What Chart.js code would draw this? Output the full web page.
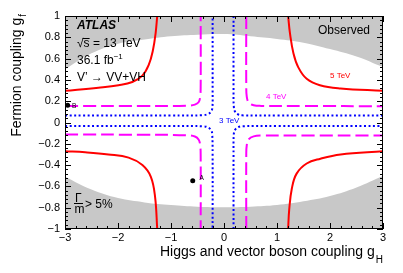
<!DOCTYPE html>
<html>
<head>
<meta charset="utf-8">
<script src="https://cdn.jsdelivr.net/npm/chart.js@4.4.0/dist/chart.umd.min.js"></script>
<style>
html, body { margin: 0; padding: 0; background: #fff; }
#wrap { width: 403px; height: 273px; }
</style>
</head>
<body>
<div id="wrap"><canvas id="chart" width="403" height="273"></canvas></div>
<script>
// Tick labels
const xTickValues = [-3, -2, -1, 0, 1, 2, 3];
const yTickValues = [-1, -0.8, -0.6, -0.4, -0.2, 0, 0.2, 0.4, 0.6, 0.8, 1];

// Grey band (Gamma/m > 5%), upper and lower edge
const widthEdgeGH = [-3, -2.5, -2, -1.5, -1, -0.5, 0, 0.5, 1, 1.5, 2, 2.5, 3];
const widthEdgeUpperGF = [0.50, 0.65, 0.74, 0.78, 0.81, 0.825, 0.83, 0.81, 0.785, 0.75, 0.69, 0.62, 0.52];
const widthEdgeLowerGF = [-0.51, -0.63, -0.71, -0.75, -0.775, -0.79, -0.795, -0.79, -0.775, -0.74, -0.69, -0.61, -0.50];

// 5 TeV contour [gH, gf], one branch per quadrant
const tev5UpperLeft = [[-3, 0.297], [-2.37, 0.327], [-1.99, 0.35], [-1.73, 0.38], [-1.54, 0.44], [-1.42, 0.54], [-1.34, 0.68], [-1.29, 0.84], [-1.26, 1.0]];
const tev5UpperRight = [[1.21, 1.0], [1.245, 0.836], [1.31, 0.65], [1.40, 0.52], [1.56, 0.41], [1.81, 0.35], [2.2, 0.32], [3, 0.297]];
const tev5LowerLeft = [[-3, -0.27], [-2.62, -0.28], [-2.18, -0.30], [-1.80, -0.33], [-1.54, -0.40], [-1.38, -0.51], [-1.30, -0.70], [-1.26, -1.0]];
const tev5LowerRight = [[1.21, -1.0], [1.23, -0.82], [1.28, -0.62], [1.37, -0.48], [1.56, -0.385], [1.82, -0.34], [2.2, -0.30], [3, -0.27]];

// 4 TeV contour
const tev4UpperLeft = [[-3, 0.156], [-1.5, 0.156], [-0.7, 0.157], [-0.55, 0.168], [-0.48, 0.19], [-0.45, 0.24], [-0.44, 0.35], [-0.44, 1.0]];
const tev4UpperRight = [[0.42, 1.0], [0.42, 0.35], [0.43, 0.24], [0.47, 0.185], [0.56, 0.162], [0.7, 0.156], [1.5, 0.155], [3, 0.153]];
const tev4LowerLeft = [[-3, -0.113], [-1.5, -0.115], [-0.7, -0.12], [-0.55, -0.132], [-0.48, -0.16], [-0.45, -0.21], [-0.44, -0.32], [-0.44, -1.0]];
const tev4LowerRight = [[0.42, -1.0], [0.42, -0.32], [0.43, -0.21], [0.47, -0.155], [0.56, -0.13], [0.7, -0.123], [1.5, -0.122], [3, -0.122]];

// 3 TeV contour
const tev3UpperLeft = [[-3, 0.066], [-1, 0.066], [-0.40, 0.068], [-0.30, 0.08], [-0.24, 0.105], [-0.218, 0.146], [-0.215, 0.3], [-0.215, 1.0]];
const tev3UpperRight = [[0.18, 1.0], [0.18, 0.3], [0.185, 0.15], [0.21, 0.1], [0.27, 0.075], [0.34, 0.067], [1, 0.066], [3, 0.066]];
const tev3LowerLeft = [[-3, -0.033], [-1, -0.034], [-0.38, -0.036], [-0.29, -0.05], [-0.24, -0.075], [-0.222, -0.11], [-0.215, -0.3], [-0.215, -1.0]];
const tev3LowerRight = [[0.18, -1.0], [0.18, -0.3], [0.185, -0.11], [0.21, -0.068], [0.27, -0.044], [0.34, -0.035], [1, -0.033], [3, -0.032]];

// Benchmark points
const benchA = [-0.59, -0.548];
const benchB = [-2.95, 0.162];

const FONT = "'Liberation Sans', Arial, Helvetica, sans-serif";

function toXY(pairs) {
	return pairs.map(p => ({ x: p[0], y: p[1] }));
}

function contour(pairs, color, dash) {
	return {
		data: toXY(pairs),
		borderColor: color,
		borderWidth: 2,
		borderDash: dash,
		pointRadius: 0,
		tension: 0.4,
		fill: false,
		order: 2
	};
}

function band(edge, fillMode) {
	return {
		data: widthEdgeGH.map((g, i) => ({ x: g, y: edge[i] })),
		borderWidth: 0,
		borderColor: 'rgba(0,0,0,0)',
		backgroundColor: '#c8c8c8',
		pointRadius: 0,
		tension: 0.4,
		fill: fillMode,
		order: 10
	};
}

function marker(p) {
	return {
		data: [{ x: p[0], y: p[1] }],
		showLine: false,
		pointRadius: 2.5,
		pointBackgroundColor: '#000',
		pointBorderWidth: 0,
		order: 1
	};
}

function fmtTick(v) {
	let s = (Math.abs(v) < 1e-9 ? 0 : v).toFixed(1);
	s = s.replace(/\.0$/, '');
	return s.replace('-', '\u2212');
}

// Rahmen, Ticks nach innen und Beschriftungen
const decorPlugin = {
	id: 'decor',
	afterDraw(chart) {
		const { ctx, chartArea: a, scales: { x, y } } = chart;
		ctx.save();
		ctx.strokeStyle = '#000';
		ctx.lineWidth = 1;
		ctx.strokeRect(a.left + 0.5, a.top + 0.5, a.right - a.left - 1, a.bottom - a.top - 1);

		ctx.beginPath();
		for (let i = 0; i <= 30; i++) {
			const px = Math.round(x.getPixelForValue(-3 + i * 0.2)) + 0.5;
			const len = i % 5 === 0 ? 6 : 3;
			ctx.moveTo(px, a.bottom); ctx.lineTo(px, a.bottom - len);
			ctx.moveTo(px, a.top); ctx.lineTo(px, a.top + len);
		}
		for (let i = 0; i <= 50; i++) {
			const py = Math.round(y.getPixelForValue(-1 + i * 0.04)) + 0.5;
			const len = i % 5 === 0 ? 6 : 3;
			ctx.moveTo(a.left, py); ctx.lineTo(a.left + len, py);
			ctx.moveTo(a.right, py); ctx.lineTo(a.right - len, py);
		}
		ctx.stroke();

		ctx.fillStyle = '#000';
		ctx.textBaseline = 'alphabetic';
		ctx.textAlign = 'left';

		// x title with subscript H
		ctx.font = '14px ' + FONT;
		const xMain = 'Higgs and vector boson coupling g';
		ctx.font = '10px ' + FONT;
		const subH = ctx.measureText('H').width;
		ctx.font = '14px ' + FONT;
		const xMainW = ctx.measureText(xMain).width;
		const xEnd = a.right;
		ctx.fillText(xMain, xEnd - subH - xMainW - 1, 256);
		ctx.font = '10px ' + FONT;
		ctx.fillText('H', xEnd - subH, 263);

		// y title with subscript f (rotated)
		ctx.save();
		ctx.translate(21, 0);
		ctx.rotate(-Math.PI / 2);
		ctx.font = '14px ' + FONT;
		const yMain = 'Fermion coupling g';
		const yMainW = ctx.measureText(yMain).width;
		ctx.font = '10px ' + FONT;
		const subF = ctx.measureText('f').width;
		const yStart = -(14 + subF + 1 + yMainW);
		ctx.font = '14px ' + FONT;
		ctx.fillText(yMain, yStart, 0);
		ctx.font = '10px ' + FONT;
		ctx.fillText('f', yStart + yMainW + 1, 5);
		ctx.restore();

		// ATLAS block
		ctx.font = 'italic bold 12px ' + FONT;
		ctx.fillText('ATLAS', 77, 28.5);
		ctx.font = '12px ' + FONT;
		const sqrtW = ctx.measureText('\u221A').width;
		ctx.fillText('\u221As = 13 TeV', 77, 47);
		const sW = ctx.measureText('s').width;
		ctx.beginPath();
		ctx.moveTo(77 + sqrtW - 1, 38.5);
		ctx.lineTo(77 + sqrtW + sW, 38.5);
		ctx.stroke();
		ctx.fillText('36.1 fb', 77, 64);
		const fbW = ctx.measureText('36.1 fb').width;
		ctx.font = '8px ' + FONT;
		ctx.fillText('\u22121', 77 + fbW, 59);
		ctx.font = '12px ' + FONT;
		ctx.fillText('V\u2019 \u2192 VV+VH', 77, 81);

		ctx.fillText('Observed', 318, 34);

		// Gamma/m > 5%
		ctx.fillText('\u0393', 75, 201.5);
		ctx.beginPath();
		ctx.moveTo(74, 203.5); ctx.lineTo(83, 203.5);
		ctx.stroke();
		ctx.fillText('m', 74.5, 212.5);
		ctx.fillText('> 5%', 85, 208);

		// contour labels
		ctx.font = '8px ' + FONT;
		ctx.fillStyle = '#ff0000';
		ctx.fillText('5 TeV', 330, 77.5);
		ctx.fillStyle = '#ff00ff';
		ctx.fillText('4 TeV', 266, 98.5);
		ctx.fillStyle = '#0000ff';
		ctx.fillText('3 TeV', 219, 122.5);

		// point labels
		ctx.fillStyle = '#000';
		ctx.font = '6.5px ' + FONT;
		ctx.fillText('A', 199.5, 180);
		ctx.fillText('B', 72, 107.5);
		ctx.restore();
	}
};

const ctx = document.getElementById('chart').getContext('2d');
new Chart(ctx, {
	type: 'line',
	data: {
		datasets: [
			band(widthEdgeUpperGF, 'end'),
			band(widthEdgeLowerGF, 'start'),
			contour(tev5UpperLeft, '#ff0000', []),
			contour(tev5UpperRight, '#ff0000', []),
			contour(tev5LowerLeft, '#ff0000', []),
			contour(tev5LowerRight, '#ff0000', []),
			contour(tev4UpperLeft, '#ff00ff', [13, 5]),
			contour(tev4UpperRight, '#ff00ff', [13, 5]),
			contour(tev4LowerLeft, '#ff00ff', [13, 5]),
			contour(tev4LowerRight, '#ff00ff', [13, 5]),
			contour(tev3UpperLeft, '#0000ff', [2, 2.5]),
			contour(tev3UpperRight, '#0000ff', [2, 2.5]),
			contour(tev3LowerLeft, '#0000ff', [2, 2.5]),
			contour(tev3LowerRight, '#0000ff', [2, 2.5]),
			marker(benchA),
			marker(benchB)
		]
	},
	options: {
		responsive: false,
		animation: false,
		events: [],
		layout: { padding: { top: 16, right: 20, left: 0, bottom: 0 } },
		plugins: {
			legend: { display: false },
			tooltip: { enabled: false },
			title: { display: false }
		},
		scales: {
			x: {
				type: 'linear',
				min: -3,
				max: 3,
				afterBuildTicks: s => { s.ticks = xTickValues.map(v => ({ value: v })); },
				afterFit: s => { s.height = 44; },
				grid: { display: false, drawTicks: false },
				border: { display: false },
				ticks: {
					padding: 2,
					color: '#000',
					maxRotation: 0,
					autoSkip: false,
					font: { family: FONT, size: 11 },
					callback: v => fmtTick(v)
				}
			},
			y: {
				type: 'linear',
				min: -1,
				max: 1,
				afterBuildTicks: s => { s.ticks = yTickValues.map(v => ({ value: v })); },
				afterFit: s => { s.width = 65; },
				grid: { display: false, drawTicks: false },
				border: { display: false },
				ticks: {
					padding: 5,
					color: '#000',
					autoSkip: false,
					font: { family: FONT, size: 11 },
					callback: v => fmtTick(v)
				}
			}
		}
	},
	plugins: [decorPlugin]
});
</script>
</body>
</html>
